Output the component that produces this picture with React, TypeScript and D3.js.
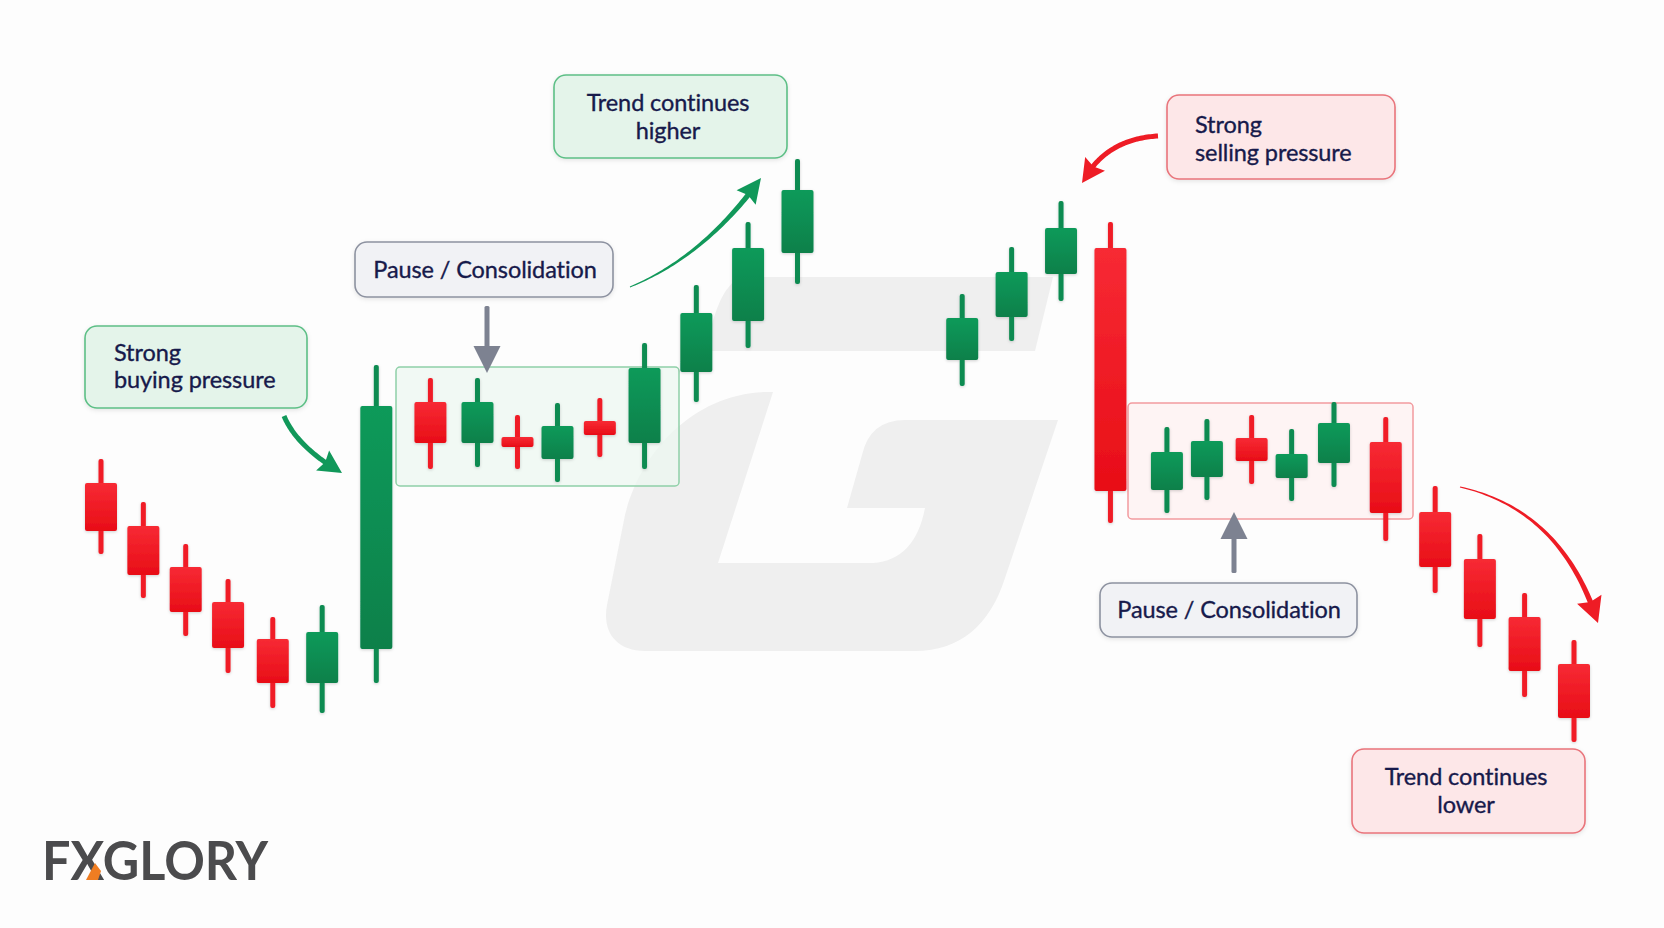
import React from "react";
import * as d3 from "d3";

// ---- Data ----
// session slot (time position) of each candle
const slots = [0, 0.9, 1.8, 2.7, 3.65, 4.7, 5.85, 7.0, 8.0, 8.85, 9.7, 10.6, 11.55, 12.65, 13.75, 14.8,
  18.3, 19.35, 20.4, 21.45, 22.65, 23.5, 24.45, 25.3, 26.2, 27.3, 28.35, 29.3, 30.25, 31.3];
const opens = [63.4, 54.8, 46.6, 39.6, 32.2, 23.4, 30.2, 79.6, 71.4, 72.6, 68.2, 75.8, 71.4, 85.6, 95.8, 109.4,
  88.0, 96.6, 105.2, 110.4, 62.0, 64.6, 72.4, 64.4, 67.4, 71.6, 57.6, 48.2, 36.6, 27.2];
const highs = [68.2, 59.6, 51.2, 44.2, 36.6, 39.0, 87.0, 84.4, 84.4, 77.0, 79.4, 80.4, 91.4, 103.0, 115.6, 128.2,
  101.2, 110.6, 119.8, 115.6, 74.6, 76.2, 77.0, 74.2, 79.6, 76.6, 62.8, 53.2, 41.4, 32.0];
const lows = [49.2, 40.4, 32.8, 25.4, 18.4, 17.4, 23.4, 66.2, 66.6, 66.2, 63.6, 68.6, 66.2, 79.6, 90.4, 103.2,
  82.8, 91.8, 99.8, 55.4, 57.4, 60.0, 63.2, 59.8, 62.6, 51.8, 41.4, 30.6, 20.6, 11.6];
const closes = [53.8, 45.0, 37.6, 30.4, 23.4, 33.6, 78.8, 71.4, 79.6, 70.6, 74.8, 73.0, 86.4, 97.4, 110.4, 122.0,
  96.4, 105.6, 114.4, 61.8, 69.6, 71.8, 67.8, 69.2, 75.4, 57.4, 46.6, 36.2, 25.8, 16.4];

const W = 1664;
const H = 928;
const GREEN = "#0b8b51";
const RED = "#f01d27";
const TEXT = "#171a4b";
const FONT = "Lato, 'Open Sans', sans-serif";

type Pt = { x: number; y: number };

function quadAt(s: Pt, c: Pt, e: Pt, t: number): Pt {
  const u = 1 - t;
  return { x: u * u * s.x + 2 * u * t * c.x + t * t * e.x, y: u * u * s.y + 2 * u * t * c.y + t * t * e.y };
}
function quadD(s: Pt, c: Pt, e: Pt, t: number): Pt {
  return { x: 2 * (1 - t) * (c.x - s.x) + 2 * t * (e.x - c.x), y: 2 * (1 - t) * (c.y - s.y) + 2 * t * (e.y - c.y) };
}

function curvedArrow(s: Pt, c: Pt, e: Pt, w0: number, w1: number, headLen: number, headHalf: number) {
  const N = 200;
  let tBase = 1;
  let tShaft = 1;
  for (let i = N; i >= 0; i--) {
    const p = quadAt(s, c, e, i / N);
    const d = Math.hypot(p.x - e.x, p.y - e.y);
    if (tShaft === 1 && d >= headLen * 0.55) tShaft = i / N;
    if (d >= headLen) { tBase = i / N; break; }
  }
  const M = 50;
  const left: [number, number][] = [];
  const right: [number, number][] = [];
  for (let j = 0; j <= M; j++) {
    const t = (tShaft * j) / M;
    const p = quadAt(s, c, e, t);
    const d = quadD(s, c, e, t);
    const len = Math.hypot(d.x, d.y) || 1;
    const nx = -d.y / len, ny = d.x / len;
    const w = w0 + ((w1 - w0) * j) / M;
    left.push([p.x + (nx * w) / 2, p.y + (ny * w) / 2]);
    right.push([p.x - (nx * w) / 2, p.y - (ny * w) / 2]);
  }
  const shaft = d3.line().curve(d3.curveLinearClosed)([...left, ...right.reverse()]) || "";
  const b = quadAt(s, c, e, tBase);
  const dl = Math.hypot(e.x - b.x, e.y - b.y) || 1;
  const dx = (e.x - b.x) / dl, dy = (e.y - b.y) / dl;
  const nx = -dy, ny = dx;
  const head = `M${e.x},${e.y}L${b.x + nx * headHalf},${b.y + ny * headHalf}L${b.x + dx * 3},${b.y + dy * 3}L${b.x - nx * headHalf},${b.y - ny * headHalf}Z`;
  return { shaft, head };
}

const arrows = [
  { s: { x: 284, y: 416 }, c: { x: 297, y: 447 }, e: { x: 342, y: 473 }, w0: 5, w1: 5, hl: 23, hh: 12, color: "#11985a" },
  { s: { x: 630, y: 287 }, c: { x: 705, y: 256 }, e: { x: 761, y: 178 }, w0: 1, w1: 5.5, hl: 24, hh: 12, color: "#11985a" },
  { s: { x: 1158, y: 136 }, c: { x: 1105, y: 139 }, e: { x: 1082, y: 183 }, w0: 5, w1: 5, hl: 23, hh: 12, color: "#ee1c25" },
  { s: { x: 1460, y: 487 }, c: { x: 1562, y: 510 }, e: { x: 1598, y: 623 }, w0: 1, w1: 5.5, hl: 25, hh: 13, color: "#ee1c25" },
];

type Label = { x: number; y: number; w: number; h: number; kind: "green" | "red" | "grey"; lines: string[]; anchor: "start" | "middle"; tx: number; baselines: number[] };
const labels: Label[] = [
  { x: 85, y: 326, w: 222, h: 82, kind: "green", lines: ["Strong", "buying pressure"], anchor: "start", tx: 114, baselines: [361, 388] },
  { x: 355, y: 242, w: 258, h: 55, kind: "grey", lines: ["Pause / Consolidation"], anchor: "middle", tx: 485, baselines: [278] },
  { x: 554, y: 75, w: 233, h: 83, kind: "green", lines: ["Trend continues", "higher"], anchor: "middle", tx: 668, baselines: [111, 139] },
  { x: 1167, y: 95, w: 228, h: 84, kind: "red", lines: ["Strong", "selling pressure"], anchor: "start", tx: 1195, baselines: [133, 161] },
  { x: 1100, y: 583, w: 257, h: 54, kind: "grey", lines: ["Pause / Consolidation"], anchor: "middle", tx: 1229, baselines: [618] },
  { x: 1352, y: 749, w: 233, h: 84, kind: "red", lines: ["Trend continues", "lower"], anchor: "middle", tx: 1466, baselines: [785, 813] },
];

const labelStyle = {
  green: { fill: "#e4f4ea", stroke: "#5dbf86" },
  red: { fill: "#fde7e8", stroke: "#e9747b" },
  grey: { fill: "#f1f2f5", stroke: "#8d92a0" },
};

const watermarkTop = "M742,277 L1053,277 L1035,351 L706,351 C712,318 722,284 742,277 Z";
const watermarkBody =
  "M765,392 L773,392 L718,563 L873,563 Q915,560 925,508 L847,508 L862,455 Q870,420 905,420 L1058,420 L1005,578 C990,625 960,651 915,651 L645,651 C616,651 602,632 607,605 L625,515 C640,455 690,395 765,392 Z";

export default function App() {
  const x = d3.scaleLinear().domain([0, 31.3]).range([101, 1574]);
  const y = d3.scaleLinear().domain([0, 160]).range([800, 0]);
  const bodyW = 32;
  const wickW = 5;

  const candles = slots.map((t, i) => {
    const o = opens[i], c = closes[i], hi = highs[i], lo = lows[i];
    const up = c >= o;
    return { cx: x(t), yHigh: y(hi), yLow: y(lo), yTop: y(Math.max(o, c)), yBot: y(Math.min(o, c)), up };
  });

  return (
    <div style={{ position: "fixed", left: 0, top: 0, width: W, height: H, overflow: "hidden" }}>
      <svg width={W} height={H} viewBox={`0 0 ${W} ${H}`} style={{ display: "block", fontFamily: FONT }}>
        <defs>
          <linearGradient id="gUp" x1="0" y1="0" x2="0" y2="1">
            <stop offset="0%" stopColor="#109a5a" />
            <stop offset="100%" stopColor="#08804a" />
          </linearGradient>
          <linearGradient id="gDn" x1="0" y1="0" x2="0" y2="1">
            <stop offset="0%" stopColor="#f72a34" />
            <stop offset="100%" stopColor="#e80d17" />
          </linearGradient>
          <filter id="soft" x="-30%" y="-10%" width="160%" height="120%">
            <feDropShadow dx="0" dy="1" stdDeviation="1.6" floodColor="#000" floodOpacity="0.18" />
          </filter>
          <filter id="boxShadow" x="-10%" y="-20%" width="120%" height="150%">
            <feDropShadow dx="0" dy="1.5" stdDeviation="2" floodColor="#000" floodOpacity="0.10" />
          </filter>
        </defs>

        <rect x={0} y={0} width={W} height={H} fill="#fdfdfd" />

        {/* watermark */}
        <path d={watermarkTop} fill="#efefef" />
        <path d={watermarkBody} fill="#efefef" />

        {/* consolidation zones */}
        <rect x={396} y={367} width={283} height={119} rx={4} fill="rgba(236,247,240,0.72)" stroke="#8fd0a8" strokeWidth={1.5} />
        <rect x={1128} y={403} width={285} height={116} rx={4} fill="rgba(253,240,240,0.72)" stroke="#f29a9e" strokeWidth={1.5} />

        {/* candles */}
        <g filter="url(#soft)">
          {candles.map((c, i) => (
            <g key={i}>
              <rect x={c.cx - wickW / 2} y={c.yHigh} width={wickW} height={c.yLow - c.yHigh} rx={2} fill={c.up ? GREEN : RED} />
              <rect x={c.cx - bodyW / 2} y={c.yTop} width={bodyW} height={Math.max(2, c.yBot - c.yTop)} rx={2} fill={c.up ? "url(#gUp)" : "url(#gDn)"} />
            </g>
          ))}
        </g>

        {/* curved arrows */}
        {arrows.map((a, i) => {
          const g = curvedArrow(a.s, a.c, a.e, a.w0, a.w1, a.hl, a.hh);
          return (
            <g key={i} fill={a.color}>
              <path d={g.shaft} />
              <path d={g.head} />
            </g>
          );
        })}

        {/* grey straight arrows */}
        <g fill="#7d8291">
          <rect x={484.5} y={306} width={5} height={44} rx={1.5} />
          <path d="M473.5,346 L500.5,346 L487,373 Z" />
          <rect x={1231.5} y={535} width={5} height={38} rx={1.5} />
          <path d="M1220.5,539 L1247.5,539 L1234,512 Z" />
        </g>

        {/* labels */}
        {labels.map((l, i) => (
          <g key={i}>
            <rect x={l.x} y={l.y} width={l.w} height={l.h} rx={12} fill={labelStyle[l.kind].fill} stroke={labelStyle[l.kind].stroke} strokeWidth={1.6} filter="url(#boxShadow)" />
            {l.lines.map((t, j) => (
              <text key={j} x={l.tx} y={l.baselines[j]} textAnchor={l.anchor} fontSize={23.5} fill={TEXT} stroke={TEXT} strokeWidth={0.35} letterSpacing={-0.1} style={{ fontFamily: FONT }}>
                {t}
              </text>
            ))}
          </g>
        ))}

        {/* logo */}
        <text x={42} y={880} fontSize={54} fontWeight={700} fill="#4b4b4d" textLength={226} lengthAdjust="spacingAndGlyphs" style={{ fontFamily: "Lato, sans-serif" }}>
          FXGLORY
        </text>
        <path d="M86,880 L98,880 L101,871 L95,863 Z" fill="#ef7d22" />
      </svg>
    </div>
  );
}
